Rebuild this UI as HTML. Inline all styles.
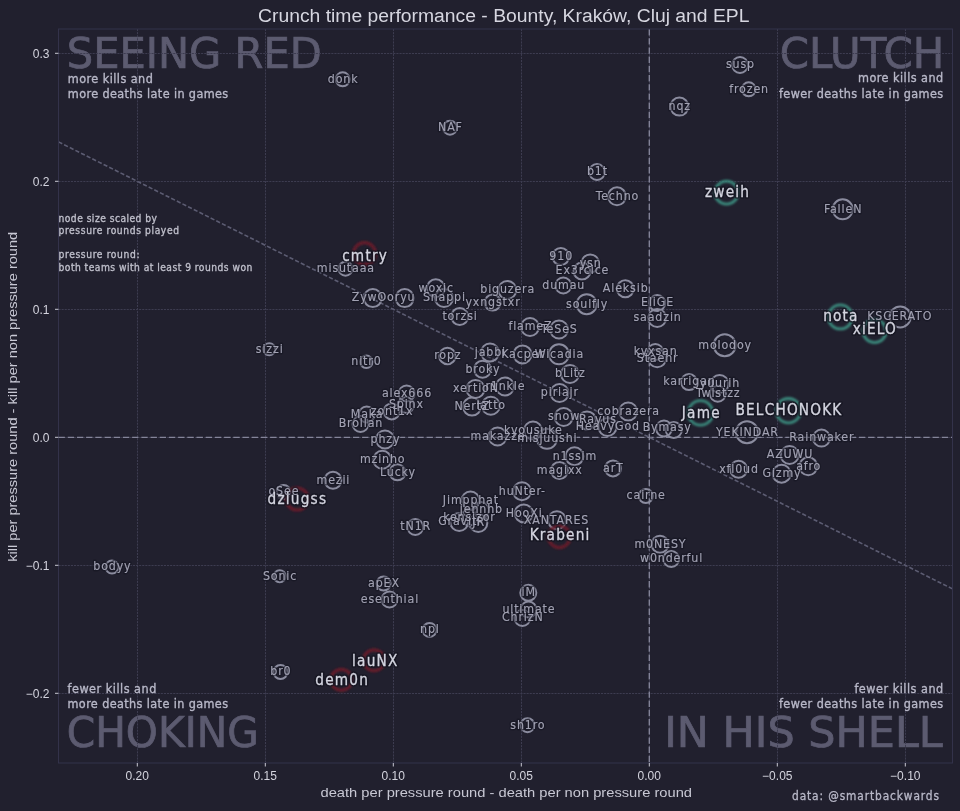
<!DOCTYPE html><html><head><meta charset="utf-8"><title>Crunch time performance</title><style>
html,body{margin:0;padding:0;background:#21202e;width:960px;height:811px;overflow:hidden}
svg{display:block}
text{font-family:'Liberation Sans', 'DejaVu Sans', sans-serif}
.din,.hs,.fs,.hb,.fb,.wm,.qd,.nt{font-family:'DejaVu Sans Condensed','DejaVu Sans',sans-serif;font-stretch:condensed}
.hs,.fs{font-size:12.3px;text-anchor:middle}.hb,.fb{font-size:15.2px;text-anchor:middle}
.hs,.hb{fill:#141420;stroke:#141420;stroke-opacity:0.55;fill-opacity:0.55;stroke-width:2.8px;stroke-linejoin:round}.hb{stroke-opacity:0.75;fill-opacity:0.75;stroke-width:3.6px}
.fs{fill:#a2a2b3;stroke:#a2a2b3;stroke-width:0.15px}
.fb{fill:#d4d5e0;stroke:#d4d5e0;stroke-width:0.3px}
.rn{fill:none;stroke:#8b8c9f;stroke-width:2}
.rt{fill:none;stroke:#3b8b7e;stroke-width:2.8;filter:url(#bl)}
.rr{fill:none;stroke:#661c2a;stroke-width:3.2;filter:url(#bl)}
.gr{stroke:#3d3c50;stroke-width:1;stroke-dasharray:2.1 1}
.tk{fill:#d4d4de;font-size:12px}
.wm{fill:#5c5b70;font-size:43px;stroke:#5c5b70;stroke-width:0.7px}
.qd{fill:#b8b8c8;font-size:12.5px;stroke:#b8b8c8;stroke-width:0.35px}
.nt{fill:#c0c0cc;font-size:10.2px;stroke:#c0c0cc;stroke-width:0.3px}
</style></head><body>
<svg width="960" height="811" viewBox="0 0 960 811">
<defs><filter id="bl" x="-50%" y="-50%" width="200%" height="200%"><feGaussianBlur stdDeviation="0.9"/></filter></defs>
<rect width="960" height="811" fill="#21202e"/>
<text class="wm" x="66.8" y="67.6" textLength="254.9" lengthAdjust="spacingAndGlyphs">SEEING RED</text>
<text class="wm" x="779.8" y="67.9" textLength="164.5" lengthAdjust="spacingAndGlyphs">CLUTCH</text>
<text class="wm" x="66.7" y="747" textLength="192.1" lengthAdjust="spacingAndGlyphs">CHOKING</text>
<text class="wm" x="664.2" y="746.6" textLength="278.5" lengthAdjust="spacingAndGlyphs">IN HIS SHELL</text>
<line class="gr" x1="137.5" y1="29.0" x2="137.5" y2="763.0"/>
<line class="gr" x1="265.5" y1="29.0" x2="265.5" y2="763.0"/>
<line class="gr" x1="393.5" y1="29.0" x2="393.5" y2="763.0"/>
<line class="gr" x1="521.5" y1="29.0" x2="521.5" y2="763.0"/>
<line class="gr" x1="649.5" y1="29.0" x2="649.5" y2="763.0"/>
<line class="gr" x1="777.5" y1="29.0" x2="777.5" y2="763.0"/>
<line class="gr" x1="905.5" y1="29.0" x2="905.5" y2="763.0"/>
<line class="gr" x1="58.5" y1="53.5" x2="952.5" y2="53.5"/>
<line class="gr" x1="58.5" y1="181.5" x2="952.5" y2="181.5"/>
<line class="gr" x1="58.5" y1="309.5" x2="952.5" y2="309.5"/>
<line class="gr" x1="58.5" y1="437.5" x2="952.5" y2="437.5"/>
<line class="gr" x1="58.5" y1="565.5" x2="952.5" y2="565.5"/>
<line class="gr" x1="58.5" y1="693.5" x2="952.5" y2="693.5"/>
<line x1="649.3" y1="29.0" x2="649.3" y2="763.0" stroke="#85859a" stroke-width="1.35" stroke-dasharray="6.4 2.8"/>
<line x1="58.5" y1="437.3" x2="952.5" y2="437.3" stroke="#85859a" stroke-width="1.35" stroke-dasharray="6.4 2.8"/>
<line x1="58.5" y1="141.9" x2="952.5" y2="588.9" stroke="#5c5c72" stroke-width="1.6" stroke-dasharray="4.2 2.1"/>
<rect x="58.5" y="29.0" width="894.0" height="734.0" fill="none" stroke="#33324a" stroke-width="1"/>
<line x1="137.3" y1="763.0" x2="137.3" y2="766.5" stroke="#c8c8d2" stroke-width="1"/>
<text class="tk" x="137.3" y="780.0" text-anchor="middle">0.20</text>
<line x1="265.3" y1="763.0" x2="265.3" y2="766.5" stroke="#c8c8d2" stroke-width="1"/>
<text class="tk" x="265.3" y="780.0" text-anchor="middle">0.15</text>
<line x1="393.3" y1="763.0" x2="393.3" y2="766.5" stroke="#c8c8d2" stroke-width="1"/>
<text class="tk" x="393.3" y="780.0" text-anchor="middle">0.10</text>
<line x1="521.3" y1="763.0" x2="521.3" y2="766.5" stroke="#c8c8d2" stroke-width="1"/>
<text class="tk" x="521.3" y="780.0" text-anchor="middle">0.05</text>
<line x1="649.3" y1="763.0" x2="649.3" y2="766.5" stroke="#c8c8d2" stroke-width="1"/>
<text class="tk" x="649.3" y="780.0" text-anchor="middle">0.00</text>
<line x1="777.3" y1="763.0" x2="777.3" y2="766.5" stroke="#c8c8d2" stroke-width="1"/>
<text class="tk" x="777.3" y="780.0" text-anchor="middle">−0.05</text>
<line x1="905.3" y1="763.0" x2="905.3" y2="766.5" stroke="#c8c8d2" stroke-width="1"/>
<text class="tk" x="905.3" y="780.0" text-anchor="middle">−0.10</text>
<line x1="55.0" y1="53.3" x2="58.5" y2="53.3" stroke="#c8c8d2" stroke-width="1"/>
<text class="tk" x="49.5" y="57.6" text-anchor="end">0.3</text>
<line x1="55.0" y1="181.3" x2="58.5" y2="181.3" stroke="#c8c8d2" stroke-width="1"/>
<text class="tk" x="49.5" y="185.6" text-anchor="end">0.2</text>
<line x1="55.0" y1="309.3" x2="58.5" y2="309.3" stroke="#c8c8d2" stroke-width="1"/>
<text class="tk" x="49.5" y="313.6" text-anchor="end">0.1</text>
<line x1="55.0" y1="437.3" x2="58.5" y2="437.3" stroke="#c8c8d2" stroke-width="1"/>
<text class="tk" x="49.5" y="441.6" text-anchor="end">0.0</text>
<line x1="55.0" y1="565.3" x2="58.5" y2="565.3" stroke="#c8c8d2" stroke-width="1"/>
<text class="tk" x="49.5" y="569.6" text-anchor="end">−0.1</text>
<line x1="55.0" y1="693.3" x2="58.5" y2="693.3" stroke="#c8c8d2" stroke-width="1"/>
<text class="tk" x="49.5" y="697.6" text-anchor="end">−0.2</text>
<text class="qd" x="67.8" y="82.6" text-anchor="start" textLength="85.0" lengthAdjust="spacing">more kills and</text>
<text class="qd" x="67.8" y="97.6" text-anchor="start" textLength="160.4" lengthAdjust="spacing">more deaths late in games</text>
<text class="qd" x="943.2" y="82.4" text-anchor="end" textLength="85.2" lengthAdjust="spacing">more kills and</text>
<text class="qd" x="943.2" y="97.7" text-anchor="end" textLength="164.3" lengthAdjust="spacing">fewer deaths late in games</text>
<text class="qd" x="67.5" y="693.0" text-anchor="start" textLength="88.8" lengthAdjust="spacing">fewer kills and</text>
<text class="qd" x="67.5" y="708.0" text-anchor="start" textLength="160.5" lengthAdjust="spacing">more deaths late in games</text>
<text class="qd" x="943.2" y="693.0" text-anchor="end" textLength="88.8" lengthAdjust="spacing">fewer kills and</text>
<text class="qd" x="943.2" y="707.8" text-anchor="end" textLength="164.3" lengthAdjust="spacing">fewer deaths late in games</text>
<text class="nt" x="58.5" y="221.5" text-anchor="start" textLength="98.5" lengthAdjust="spacing">node size scaled by</text>
<text class="nt" x="58.5" y="233.6" text-anchor="start" textLength="120.5" lengthAdjust="spacing">pressure rounds played</text>
<text class="nt" x="58.5" y="258.0" text-anchor="start" textLength="81.0" lengthAdjust="spacing">pressure round:</text>
<text class="nt" x="58.5" y="270.5" text-anchor="start" textLength="193.8" lengthAdjust="spacing">both teams with at least 9 rounds won</text>
<circle class="rn" cx="342.7" cy="79.3" r="7.0"/>
<circle class="rn" cx="450.0" cy="127.7" r="7.0"/>
<circle class="rn" cx="740.0" cy="65.0" r="8.0"/>
<circle class="rn" cx="748.7" cy="89.3" r="7.0"/>
<circle class="rn" cx="679.4" cy="106.6" r="9.0"/>
<circle class="rn" cx="597.0" cy="172.0" r="8.0"/>
<circle class="rn" cx="617.0" cy="196.3" r="9.0"/>
<circle class="rn" cx="842.7" cy="209.3" r="10.0"/>
<circle class="rn" cx="900.2" cy="316.9" r="10.5"/>
<circle class="rn" cx="345.5" cy="268.7" r="7.0"/>
<circle class="rn" cx="372.8" cy="298.1" r="9.0"/>
<circle class="rn" cx="404.7" cy="298.1" r="9.0"/>
<circle class="rn" cx="435.8" cy="288.3" r="9.0"/>
<circle class="rn" cx="444.0" cy="298.0" r="9.0"/>
<circle class="rn" cx="507.3" cy="290.0" r="9.0"/>
<circle class="rn" cx="492.6" cy="302.6" r="8.0"/>
<circle class="rn" cx="459.7" cy="316.5" r="8.5"/>
<circle class="rn" cx="530.0" cy="327.0" r="9.0"/>
<circle class="rn" cx="559.0" cy="329.5" r="9.0"/>
<circle class="rn" cx="560.8" cy="256.5" r="8.5"/>
<circle class="rn" cx="590.2" cy="263.5" r="9.0"/>
<circle class="rn" cx="582.0" cy="271.0" r="8.5"/>
<circle class="rn" cx="563.3" cy="285.5" r="8.0"/>
<circle class="rn" cx="625.3" cy="288.8" r="8.5"/>
<circle class="rn" cx="586.7" cy="304.2" r="10.0"/>
<circle class="rn" cx="657.2" cy="303.1" r="8.0"/>
<circle class="rn" cx="657.2" cy="318.0" r="9.0"/>
<circle class="rn" cx="724.7" cy="345.3" r="11.0"/>
<circle class="rn" cx="655.3" cy="352.0" r="8.0"/>
<circle class="rn" cx="657.2" cy="358.3" r="9.0"/>
<circle class="rn" cx="269.3" cy="349.2" r="6.0"/>
<circle class="rn" cx="366.3" cy="361.8" r="6.2"/>
<circle class="rn" cx="447.4" cy="356.0" r="8.2"/>
<circle class="rn" cx="490.0" cy="352.5" r="9.0"/>
<circle class="rn" cx="522.5" cy="354.4" r="9.0"/>
<circle class="rn" cx="559.0" cy="354.3" r="10.0"/>
<circle class="rn" cx="482.5" cy="369.2" r="8.5"/>
<circle class="rn" cx="570.0" cy="374.0" r="9.0"/>
<circle class="rn" cx="559.5" cy="393.0" r="9.0"/>
<circle class="rn" cx="475.5" cy="389.0" r="9.0"/>
<circle class="rn" cx="505.0" cy="386.5" r="9.0"/>
<circle class="rn" cx="406.6" cy="393.5" r="8.0"/>
<circle class="rn" cx="406.0" cy="405.0" r="8.0"/>
<circle class="rn" cx="391.7" cy="411.4" r="8.0"/>
<circle class="rn" cx="366.7" cy="414.5" r="8.0"/>
<circle class="rn" cx="360.5" cy="424.0" r="8.0"/>
<circle class="rn" cx="472.0" cy="406.6" r="9.0"/>
<circle class="rn" cx="490.8" cy="405.8" r="9.0"/>
<circle class="rn" cx="385.0" cy="439.5" r="9.0"/>
<circle class="rn" cx="382.3" cy="459.8" r="9.0"/>
<circle class="rn" cx="397.5" cy="472.3" r="8.0"/>
<circle class="rn" cx="333.0" cy="480.3" r="8.5"/>
<circle class="rn" cx="283.5" cy="492.0" r="7.0"/>
<circle class="rn" cx="415.3" cy="527.0" r="8.0"/>
<circle class="rn" cx="497.6" cy="436.5" r="9.0"/>
<circle class="rn" cx="533.0" cy="430.5" r="9.0"/>
<circle class="rn" cx="547.0" cy="438.8" r="10.0"/>
<circle class="rn" cx="574.5" cy="456.2" r="9.0"/>
<circle class="rn" cx="559.4" cy="470.5" r="8.5"/>
<circle class="rn" cx="613.0" cy="468.4" r="8.0"/>
<circle class="rn" cx="563.7" cy="417.0" r="9.0"/>
<circle class="rn" cx="587.0" cy="420.4" r="9.0"/>
<circle class="rn" cx="607.5" cy="427.0" r="9.0"/>
<circle class="rn" cx="628.2" cy="411.5" r="9.0"/>
<circle class="rn" cx="664.0" cy="428.5" r="8.0"/>
<circle class="rn" cx="673.8" cy="430.0" r="8.0"/>
<circle class="rn" cx="689.0" cy="382.1" r="8.0"/>
<circle class="rn" cx="719.6" cy="384.0" r="9.0"/>
<circle class="rn" cx="717.8" cy="393.7" r="8.0"/>
<circle class="rn" cx="747.0" cy="432.3" r="11.0"/>
<circle class="rn" cx="821.5" cy="438.1" r="8.5"/>
<circle class="rn" cx="789.6" cy="455.0" r="9.0"/>
<circle class="rn" cx="808.3" cy="466.3" r="9.0"/>
<circle class="rn" cx="781.6" cy="473.7" r="9.0"/>
<circle class="rn" cx="738.6" cy="469.3" r="8.5"/>
<circle class="rn" cx="645.8" cy="496.0" r="7.0"/>
<circle class="rn" cx="660.0" cy="544.3" r="8.5"/>
<circle class="rn" cx="671.2" cy="559.0" r="8.0"/>
<circle class="rn" cx="522.0" cy="491.2" r="9.0"/>
<circle class="rn" cx="470.5" cy="500.5" r="9.0"/>
<circle class="rn" cx="481.0" cy="510.0" r="8.0"/>
<circle class="rn" cx="469.0" cy="517.5" r="8.0"/>
<circle class="rn" cx="459.2" cy="522.0" r="9.0"/>
<circle class="rn" cx="478.3" cy="523.0" r="9.0"/>
<circle class="rn" cx="523.8" cy="513.4" r="9.0"/>
<circle class="rn" cx="556.9" cy="520.2" r="9.0"/>
<circle class="rn" cx="112.0" cy="567.0" r="6.5"/>
<circle class="rn" cx="279.7" cy="576.2" r="6.0"/>
<circle class="rn" cx="280.5" cy="672.0" r="7.0"/>
<circle class="rn" cx="383.6" cy="583.5" r="7.0"/>
<circle class="rn" cx="389.5" cy="599.5" r="8.0"/>
<circle class="rn" cx="429.5" cy="629.9" r="7.0"/>
<circle class="rn" cx="528.3" cy="592.8" r="8.0"/>
<circle class="rn" cx="528.5" cy="609.5" r="8.0"/>
<circle class="rn" cx="522.4" cy="618.0" r="8.0"/>
<circle class="rn" cx="527.5" cy="725.2" r="7.0"/>
<circle class="rt" cx="726.5" cy="192.7" r="11.5"/>
<circle class="rt" cx="840.3" cy="316.9" r="12.0"/>
<circle class="rt" cx="874.6" cy="331.2" r="11.5"/>
<circle class="rt" cx="700.5" cy="412.9" r="12.3"/>
<circle class="rt" cx="788.4" cy="410.7" r="12.2"/>
<circle class="rr" cx="364.5" cy="253.7" r="11.0"/>
<circle class="rr" cx="297.1" cy="499.0" r="11.0"/>
<circle class="rr" cx="559.3" cy="536.8" r="10.8"/>
<circle class="rr" cx="374.0" cy="660.3" r="10.5"/>
<circle class="rr" cx="341.4" cy="679.8" r="10.5"/>
<g class="halo">
<text class="hs" x="343.1" y="82.6" letter-spacing="0.85">donk</text>
<text class="hs" x="450.4" y="131.0" letter-spacing="0.85">NAF</text>
<text class="hs" x="740.4" y="68.3" letter-spacing="0.85">susp</text>
<text class="hs" x="749.1" y="92.6" letter-spacing="0.85">frozen</text>
<text class="hs" x="679.8" y="109.9" letter-spacing="0.85">nqz</text>
<text class="hs" x="597.4" y="175.3" letter-spacing="0.85">b1t</text>
<text class="hs" x="617.4" y="199.6" letter-spacing="0.85">Techno</text>
<text class="hs" x="843.1" y="212.6" letter-spacing="0.85">FalleN</text>
<text class="hs" x="899.7" y="319.8" letter-spacing="0.85">KSCERATO</text>
<text class="hs" x="345.9" y="272.0" letter-spacing="0.85">misutaaa</text>
<text class="hs" x="373.2" y="301.4" letter-spacing="0.85">ZywOo</text>
<text class="hs" x="405.1" y="301.4" letter-spacing="0.85">ryu</text>
<text class="hs" x="436.2" y="291.6" letter-spacing="0.85">woxic</text>
<text class="hs" x="444.4" y="301.3" letter-spacing="0.85">Snappi</text>
<text class="hs" x="507.7" y="293.3" letter-spacing="0.85">biguzera</text>
<text class="hs" x="493.0" y="305.9" letter-spacing="0.85">yxngstxr</text>
<text class="hs" x="460.1" y="319.8" letter-spacing="0.85">torzsi</text>
<text class="hs" x="530.4" y="330.3" letter-spacing="0.85">flameZ</text>
<text class="hs" x="559.4" y="332.8" letter-spacing="0.85">TeSeS</text>
<text class="hs" x="561.2" y="259.8" letter-spacing="0.85">910</text>
<text class="hs" x="590.6" y="266.8" letter-spacing="0.85">ysn</text>
<text class="hs" x="582.4" y="274.3" letter-spacing="0.85">Ex3rcice</text>
<text class="hs" x="563.7" y="288.8" letter-spacing="0.85">dumau</text>
<text class="hs" x="625.7" y="292.1" letter-spacing="0.85">Aleksib</text>
<text class="hs" x="587.1" y="307.5" letter-spacing="0.85">soulfly</text>
<text class="hs" x="657.6" y="306.4" letter-spacing="0.85">EliGE</text>
<text class="hs" x="657.6" y="321.3" letter-spacing="0.85">saadzin</text>
<text class="hs" x="725.1" y="348.6" letter-spacing="0.85">molodoy</text>
<text class="hs" x="655.7" y="355.3" letter-spacing="0.85">kyxsan</text>
<text class="hs" x="657.6" y="361.6" letter-spacing="0.85">Staehr</text>
<text class="hs" x="269.7" y="352.5" letter-spacing="0.85">sizzi</text>
<text class="hs" x="366.4" y="365.3" letter-spacing="0.85">nitr0</text>
<text class="hs" x="447.8" y="358.9" letter-spacing="0.85">ropz</text>
<text class="hs" x="490.4" y="355.8" letter-spacing="0.85">jabbi</text>
<text class="hs" x="522.9" y="357.7" letter-spacing="0.85">Kacper</text>
<text class="hs" x="559.4" y="357.6" letter-spacing="0.85">Wicadia</text>
<text class="hs" x="482.9" y="372.5" letter-spacing="0.85">broky</text>
<text class="hs" x="570.4" y="377.3" letter-spacing="0.85">bLitz</text>
<text class="hs" x="559.9" y="396.3" letter-spacing="0.85">piriajr</text>
<text class="hs" x="475.9" y="392.3" letter-spacing="0.85">xertioN</text>
<text class="hs" x="505.4" y="389.8" letter-spacing="0.85">r1nkle</text>
<text class="hs" x="407.0" y="396.8" letter-spacing="0.85">alex666</text>
<text class="hs" x="406.4" y="408.3" letter-spacing="0.85">Spinx</text>
<text class="hs" x="392.1" y="414.7" letter-spacing="0.85">zont1x</text>
<text class="hs" x="367.1" y="417.8" letter-spacing="0.85">Maka</text>
<text class="hs" x="360.9" y="427.3" letter-spacing="0.85">Brollan</text>
<text class="hs" x="472.4" y="409.9" letter-spacing="0.85">NertZ</text>
<text class="hs" x="491.2" y="409.1" letter-spacing="0.85">latto</text>
<text class="hs" x="385.4" y="442.8" letter-spacing="0.85">phzy</text>
<text class="hs" x="382.7" y="463.1" letter-spacing="0.85">mzinho</text>
<text class="hs" x="397.9" y="475.6" letter-spacing="0.85">Lucky</text>
<text class="hs" x="333.4" y="483.6" letter-spacing="0.85">mezii</text>
<text class="hs" x="283.9" y="495.3" letter-spacing="0.85">oSee</text>
<text class="hs" x="415.7" y="530.3" letter-spacing="0.85">tN1R</text>
<text class="hs" x="498.0" y="439.8" letter-spacing="0.85">makazze</text>
<text class="hs" x="533.4" y="433.8" letter-spacing="0.85">kyousuke</text>
<text class="hs" x="547.4" y="442.1" letter-spacing="0.85">misjuushi</text>
<text class="hs" x="574.9" y="459.5" letter-spacing="0.85">n1ssim</text>
<text class="hs" x="559.8" y="473.8" letter-spacing="0.85">magixx</text>
<text class="hs" x="613.4" y="471.7" letter-spacing="0.85">arT</text>
<text class="hs" x="564.1" y="420.3" letter-spacing="0.85">snow</text>
<text class="hs" x="597.9" y="423.0" letter-spacing="0.85">Rayus</text>
<text class="hs" x="607.9" y="430.3" letter-spacing="0.85">HeavyGod</text>
<text class="hs" x="628.6" y="414.8" letter-spacing="0.85">cobrazera</text>
<text class="hs" x="667.2" y="431.1" letter-spacing="0.85">Bymasy</text>
<text class="hs" x="689.4" y="385.4" letter-spacing="0.85">karrigan</text>
<text class="hs" x="720.0" y="387.3" letter-spacing="0.85">yuurih</text>
<text class="hs" x="718.2" y="397.0" letter-spacing="0.85">Twistzz</text>
<text class="hs" x="747.4" y="435.6" letter-spacing="0.85">YEKINDAR</text>
<text class="hs" x="821.9" y="441.4" letter-spacing="0.85">Rainwaker</text>
<text class="hs" x="790.0" y="458.3" letter-spacing="0.85">AZUWU</text>
<text class="hs" x="808.7" y="469.6" letter-spacing="0.85">afro</text>
<text class="hs" x="782.0" y="477.0" letter-spacing="0.85">Gizmy</text>
<text class="hs" x="739.0" y="472.6" letter-spacing="0.85">xfl0ud</text>
<text class="hs" x="646.2" y="499.3" letter-spacing="0.85">cairne</text>
<text class="hs" x="660.4" y="547.6" letter-spacing="0.85">m0NESY</text>
<text class="hs" x="671.6" y="562.3" letter-spacing="0.85">w0nderful</text>
<text class="hs" x="522.4" y="494.5" letter-spacing="0.85">huNter-</text>
<text class="hs" x="470.9" y="503.8" letter-spacing="0.85">Jimpphat</text>
<text class="hs" x="481.4" y="513.3" letter-spacing="0.85">jennhb</text>
<text class="hs" x="469.4" y="520.8" letter-spacing="0.85">kensizor</text>
<text class="hs" x="459.6" y="525.3" letter-spacing="0.85">Graviti</text>
<text class="hs" x="478.7" y="526.3" letter-spacing="0.85">JR</text>
<text class="hs" x="524.2" y="516.7" letter-spacing="0.85">HooXi</text>
<text class="hs" x="556.5" y="523.6" letter-spacing="0.85">XANTARES</text>
<text class="hs" x="112.4" y="570.3" letter-spacing="0.85">bodyy</text>
<text class="hs" x="280.1" y="579.5" letter-spacing="0.85">Sonic</text>
<text class="hs" x="280.9" y="675.3" letter-spacing="0.85">br0</text>
<text class="hs" x="384.0" y="586.8" letter-spacing="0.85">apEX</text>
<text class="hs" x="389.9" y="602.8" letter-spacing="0.85">esenthial</text>
<text class="hs" x="429.9" y="633.2" letter-spacing="0.85">npl</text>
<text class="hs" x="528.7" y="596.1" letter-spacing="0.85">iM</text>
<text class="hs" x="528.9" y="612.8" letter-spacing="0.85">ultimate</text>
<text class="hs" x="522.8" y="621.3" letter-spacing="0.85">ChrizN</text>
<text class="hs" x="527.9" y="728.5" letter-spacing="0.85">sh1ro</text>
<text class="hb" x="727.6" y="196.5" letter-spacing="1.20">zweih</text>
<text class="hb" x="840.9" y="321.3" letter-spacing="1.20">nota</text>
<text class="hb" x="874.8" y="333.8" letter-spacing="1.20">xiELO</text>
<text class="hb" x="701.3" y="417.5" letter-spacing="1.20">Jame</text>
<text class="hb" x="789.0" y="415.0" letter-spacing="1.20">BELCHONOKK</text>
<text class="hb" x="365.1" y="260.6" letter-spacing="1.20">cmtry</text>
<text class="hb" x="297.4" y="503.7" letter-spacing="1.20">dziugss</text>
<text class="hb" x="560.1" y="540.1" letter-spacing="1.20">Krabeni</text>
<text class="hb" x="375.3" y="666.1" letter-spacing="1.20">lauNX</text>
<text class="hb" x="342.2" y="684.6" letter-spacing="1.20">dem0n</text>
</g><g>
<text class="fs" x="343.1" y="82.6" letter-spacing="0.85">donk</text>
<text class="fs" x="450.4" y="131.0" letter-spacing="0.85">NAF</text>
<text class="fs" x="740.4" y="68.3" letter-spacing="0.85">susp</text>
<text class="fs" x="749.1" y="92.6" letter-spacing="0.85">frozen</text>
<text class="fs" x="679.8" y="109.9" letter-spacing="0.85">nqz</text>
<text class="fs" x="597.4" y="175.3" letter-spacing="0.85">b1t</text>
<text class="fs" x="617.4" y="199.6" letter-spacing="0.85">Techno</text>
<text class="fs" x="843.1" y="212.6" letter-spacing="0.85">FalleN</text>
<text class="fs" x="899.7" y="319.8" letter-spacing="0.85">KSCERATO</text>
<text class="fs" x="345.9" y="272.0" letter-spacing="0.85">misutaaa</text>
<text class="fs" x="373.2" y="301.4" letter-spacing="0.85">ZywOo</text>
<text class="fs" x="405.1" y="301.4" letter-spacing="0.85">ryu</text>
<text class="fs" x="436.2" y="291.6" letter-spacing="0.85">woxic</text>
<text class="fs" x="444.4" y="301.3" letter-spacing="0.85">Snappi</text>
<text class="fs" x="507.7" y="293.3" letter-spacing="0.85">biguzera</text>
<text class="fs" x="493.0" y="305.9" letter-spacing="0.85">yxngstxr</text>
<text class="fs" x="460.1" y="319.8" letter-spacing="0.85">torzsi</text>
<text class="fs" x="530.4" y="330.3" letter-spacing="0.85">flameZ</text>
<text class="fs" x="559.4" y="332.8" letter-spacing="0.85">TeSeS</text>
<text class="fs" x="561.2" y="259.8" letter-spacing="0.85">910</text>
<text class="fs" x="590.6" y="266.8" letter-spacing="0.85">ysn</text>
<text class="fs" x="582.4" y="274.3" letter-spacing="0.85">Ex3rcice</text>
<text class="fs" x="563.7" y="288.8" letter-spacing="0.85">dumau</text>
<text class="fs" x="625.7" y="292.1" letter-spacing="0.85">Aleksib</text>
<text class="fs" x="587.1" y="307.5" letter-spacing="0.85">soulfly</text>
<text class="fs" x="657.6" y="306.4" letter-spacing="0.85">EliGE</text>
<text class="fs" x="657.6" y="321.3" letter-spacing="0.85">saadzin</text>
<text class="fs" x="725.1" y="348.6" letter-spacing="0.85">molodoy</text>
<text class="fs" x="655.7" y="355.3" letter-spacing="0.85">kyxsan</text>
<text class="fs" x="657.6" y="361.6" letter-spacing="0.85">Staehr</text>
<text class="fs" x="269.7" y="352.5" letter-spacing="0.85">sizzi</text>
<text class="fs" x="366.4" y="365.3" letter-spacing="0.85">nitr0</text>
<text class="fs" x="447.8" y="358.9" letter-spacing="0.85">ropz</text>
<text class="fs" x="490.4" y="355.8" letter-spacing="0.85">jabbi</text>
<text class="fs" x="522.9" y="357.7" letter-spacing="0.85">Kacper</text>
<text class="fs" x="559.4" y="357.6" letter-spacing="0.85">Wicadia</text>
<text class="fs" x="482.9" y="372.5" letter-spacing="0.85">broky</text>
<text class="fs" x="570.4" y="377.3" letter-spacing="0.85">bLitz</text>
<text class="fs" x="559.9" y="396.3" letter-spacing="0.85">piriajr</text>
<text class="fs" x="475.9" y="392.3" letter-spacing="0.85">xertioN</text>
<text class="fs" x="505.4" y="389.8" letter-spacing="0.85">r1nkle</text>
<text class="fs" x="407.0" y="396.8" letter-spacing="0.85">alex666</text>
<text class="fs" x="406.4" y="408.3" letter-spacing="0.85">Spinx</text>
<text class="fs" x="392.1" y="414.7" letter-spacing="0.85">zont1x</text>
<text class="fs" x="367.1" y="417.8" letter-spacing="0.85">Maka</text>
<text class="fs" x="360.9" y="427.3" letter-spacing="0.85">Brollan</text>
<text class="fs" x="472.4" y="409.9" letter-spacing="0.85">NertZ</text>
<text class="fs" x="491.2" y="409.1" letter-spacing="0.85">latto</text>
<text class="fs" x="385.4" y="442.8" letter-spacing="0.85">phzy</text>
<text class="fs" x="382.7" y="463.1" letter-spacing="0.85">mzinho</text>
<text class="fs" x="397.9" y="475.6" letter-spacing="0.85">Lucky</text>
<text class="fs" x="333.4" y="483.6" letter-spacing="0.85">mezii</text>
<text class="fs" x="283.9" y="495.3" letter-spacing="0.85">oSee</text>
<text class="fs" x="415.7" y="530.3" letter-spacing="0.85">tN1R</text>
<text class="fs" x="498.0" y="439.8" letter-spacing="0.85">makazze</text>
<text class="fs" x="533.4" y="433.8" letter-spacing="0.85">kyousuke</text>
<text class="fs" x="547.4" y="442.1" letter-spacing="0.85">misjuushi</text>
<text class="fs" x="574.9" y="459.5" letter-spacing="0.85">n1ssim</text>
<text class="fs" x="559.8" y="473.8" letter-spacing="0.85">magixx</text>
<text class="fs" x="613.4" y="471.7" letter-spacing="0.85">arT</text>
<text class="fs" x="564.1" y="420.3" letter-spacing="0.85">snow</text>
<text class="fs" x="597.9" y="423.0" letter-spacing="0.85">Rayus</text>
<text class="fs" x="607.9" y="430.3" letter-spacing="0.85">HeavyGod</text>
<text class="fs" x="628.6" y="414.8" letter-spacing="0.85">cobrazera</text>
<text class="fs" x="667.2" y="431.1" letter-spacing="0.85">Bymasy</text>
<text class="fs" x="689.4" y="385.4" letter-spacing="0.85">karrigan</text>
<text class="fs" x="720.0" y="387.3" letter-spacing="0.85">yuurih</text>
<text class="fs" x="718.2" y="397.0" letter-spacing="0.85">Twistzz</text>
<text class="fs" x="747.4" y="435.6" letter-spacing="0.85">YEKINDAR</text>
<text class="fs" x="821.9" y="441.4" letter-spacing="0.85">Rainwaker</text>
<text class="fs" x="790.0" y="458.3" letter-spacing="0.85">AZUWU</text>
<text class="fs" x="808.7" y="469.6" letter-spacing="0.85">afro</text>
<text class="fs" x="782.0" y="477.0" letter-spacing="0.85">Gizmy</text>
<text class="fs" x="739.0" y="472.6" letter-spacing="0.85">xfl0ud</text>
<text class="fs" x="646.2" y="499.3" letter-spacing="0.85">cairne</text>
<text class="fs" x="660.4" y="547.6" letter-spacing="0.85">m0NESY</text>
<text class="fs" x="671.6" y="562.3" letter-spacing="0.85">w0nderful</text>
<text class="fs" x="522.4" y="494.5" letter-spacing="0.85">huNter-</text>
<text class="fs" x="470.9" y="503.8" letter-spacing="0.85">Jimpphat</text>
<text class="fs" x="481.4" y="513.3" letter-spacing="0.85">jennhb</text>
<text class="fs" x="469.4" y="520.8" letter-spacing="0.85">kensizor</text>
<text class="fs" x="459.6" y="525.3" letter-spacing="0.85">Graviti</text>
<text class="fs" x="478.7" y="526.3" letter-spacing="0.85">JR</text>
<text class="fs" x="524.2" y="516.7" letter-spacing="0.85">HooXi</text>
<text class="fs" x="556.5" y="523.6" letter-spacing="0.85">XANTARES</text>
<text class="fs" x="112.4" y="570.3" letter-spacing="0.85">bodyy</text>
<text class="fs" x="280.1" y="579.5" letter-spacing="0.85">Sonic</text>
<text class="fs" x="280.9" y="675.3" letter-spacing="0.85">br0</text>
<text class="fs" x="384.0" y="586.8" letter-spacing="0.85">apEX</text>
<text class="fs" x="389.9" y="602.8" letter-spacing="0.85">esenthial</text>
<text class="fs" x="429.9" y="633.2" letter-spacing="0.85">npl</text>
<text class="fs" x="528.7" y="596.1" letter-spacing="0.85">iM</text>
<text class="fs" x="528.9" y="612.8" letter-spacing="0.85">ultimate</text>
<text class="fs" x="522.8" y="621.3" letter-spacing="0.85">ChrizN</text>
<text class="fs" x="527.9" y="728.5" letter-spacing="0.85">sh1ro</text>
<text class="fb" x="727.6" y="196.5" letter-spacing="1.20">zweih</text>
<text class="fb" x="840.9" y="321.3" letter-spacing="1.20">nota</text>
<text class="fb" x="874.8" y="333.8" letter-spacing="1.20">xiELO</text>
<text class="fb" x="701.3" y="417.5" letter-spacing="1.20">Jame</text>
<text class="fb" x="789.0" y="415.0" letter-spacing="1.20">BELCHONOKK</text>
<text class="fb" x="365.1" y="260.6" letter-spacing="1.20">cmtry</text>
<text class="fb" x="297.4" y="503.7" letter-spacing="1.20">dziugss</text>
<text class="fb" x="560.1" y="540.1" letter-spacing="1.20">Krabeni</text>
<text class="fb" x="375.3" y="666.1" letter-spacing="1.20">lauNX</text>
<text class="fb" x="342.2" y="684.6" letter-spacing="1.20">dem0n</text>
</g>
<text x="258" y="22.1" fill="#d6d6e0" font-size="18px" textLength="491.5" lengthAdjust="spacingAndGlyphs">Crunch time performance - Bounty, Kraków, Cluj and EPL</text>
<text x="320.5" y="796.7" fill="#c8c8d4" font-size="13px" textLength="371.5" lengthAdjust="spacingAndGlyphs">death per pressure round - death per non pressure round</text>
<text transform="translate(17,561.8) rotate(-90)" x="0" y="0" fill="#c8c8d4" font-size="13px" textLength="330" lengthAdjust="spacingAndGlyphs">kill per pressure round - kill per non pressure round</text>
<text class="din" x="792" y="800.2" fill="#b8b8c8" stroke="#b8b8c8" stroke-width="0.3" font-size="11.8px" textLength="147" lengthAdjust="spacing">data: @smartbackwards</text>
</svg></body></html>
